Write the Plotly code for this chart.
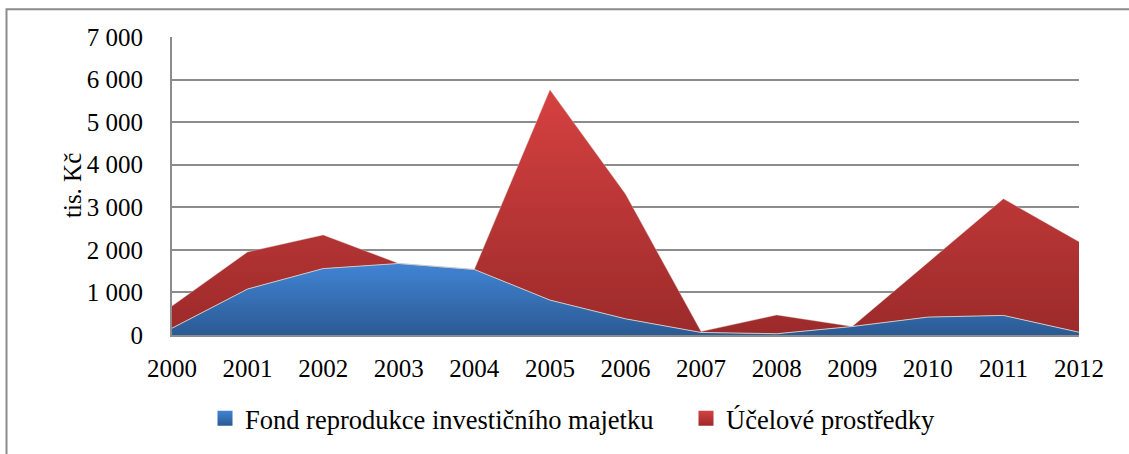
import plotly.graph_objects as go

years = [2000, 2001, 2002, 2003, 2004, 2005, 2006, 2007, 2008, 2009, 2010, 2011, 2012]
fond = [160, 1080, 1560, 1680, 1540, 820, 380, 60, 30, 200, 420, 460, 65]
ucel = [520, 870, 790, 0, 0, 4940, 2930, 20, 440, 0, 1280, 2740, 2125]

series_names = ["Fond reprodukce investičního majetku", "Účelové prostředky"]
y_tickvals = [0, 1000, 2000, 3000, 4000, 5000, 6000, 7000]
y_ticktext = ["0", "1 000", "2 000", "3 000", "4 000", "5 000", "6 000", "7 000"]
x_ticktext = [str(y) for y in years]
y_title = "tis. Kč"

FONT = "Liberation Serif, Times New Roman, serif"
GRID = "#8c8c8c"

blue_dark, blue_light = "#2b5a93", "#4184d4"
red_dark, red_light = "#9c2a2a", "#d64141"

fig = go.Figure()

fig.add_trace(go.Scatter(
    x=years, y=fond, mode="lines", stackgroup="s", showlegend=False,
    line=dict(width=1, color="#c9c9c9"),
    fillgradient=dict(type="vertical", start=0, stop=max(fond),
                      colorscale=[[0, blue_dark], [1, blue_light]]),
    hoverinfo="skip",
))
fig.add_trace(go.Scatter(
    x=years, y=ucel, mode="lines", stackgroup="s", showlegend=False,
    line=dict(width=0.6, color="rgba(215,200,200,0.7)"),
    fillgradient=dict(type="vertical", start=0, stop=max(f + u for f, u in zip(fond, ucel)),
                      colorscale=[[0, red_dark], [1, red_light]]),
    hoverinfo="skip",
))

# legend entries
fig.add_trace(go.Scatter(
    x=[None], y=[None], mode="markers", name=series_names[0], legend="legend",
    marker=dict(symbol="square", size=15, color=blue_light,
                gradient=dict(type="vertical", color=blue_dark)),
))
fig.add_trace(go.Scatter(
    x=[None], y=[None], mode="markers", name=series_names[1], legend="legend2",
    marker=dict(symbol="square", size=15, color=red_light,
                gradient=dict(type="vertical", color=red_dark)),
))

W, H = 1129, 454
L, R, T, B = 172, 50, 37, 117
pw, ph = W - L - R, H - T - B

def px(xp):
    return (xp - L) / pw

def py(yp):
    return (H - B - yp) / ph

LEG_FONT = 26.5

# outer frame: only the left and top edges fall inside the picture
bx0, by0, bx1, by1 = px(6.5), py(470), px(1140), py(9)
frame_path = f"M {bx0},{by0} L {bx0},{by1} L {bx1},{by1}"

fig.update_layout(
    width=W, height=H,
    margin=dict(l=L, r=R, t=T, b=B),
    paper_bgcolor="white", plot_bgcolor="white",
    font=dict(family=FONT, size=25, color="black"),
    showlegend=True,
    legend=dict(x=px(205), y=py(421), xanchor="left", yanchor="middle",
                font=dict(family=FONT, size=LEG_FONT), bgcolor="rgba(0,0,0,0)",
                orientation="h"),
    legend2=dict(x=px(686), y=py(421), xanchor="left", yanchor="middle",
                 font=dict(family=FONT, size=LEG_FONT), bgcolor="rgba(0,0,0,0)",
                 orientation="h"),
    xaxis=dict(range=[2000, 2012], tickvals=years, ticktext=x_ticktext,
               showgrid=False, zeroline=False, showline=True,
               linecolor=GRID, linewidth=2, ticks="", ticklabelstandoff=10,
               fixedrange=True),
    yaxis=dict(range=[0, 7000], tickvals=y_tickvals, ticktext=y_ticktext,
               showgrid=True, gridcolor=GRID, gridwidth=2, zeroline=False,
               showline=True, linecolor=GRID, linewidth=2, ticks="",
               ticklabelstandoff=22, fixedrange=True),
    annotations=[dict(text=y_title, xref="paper", yref="paper", x=px(72), y=py(187),
                      textangle=-90, showarrow=False, xanchor="center", yanchor="middle",
                      font=dict(family=FONT, size=25))],
    shapes=[dict(type="path", xref="paper", yref="paper", path=frame_path,
                 line=dict(color=GRID, width=2), layer="below")],
)

fig.write_html(
    "out.html",
    config={"displayModeBar": False},
    post_script=(
        "document.documentElement.style.overflow='hidden';"
        "document.body.style.margin='0';document.body.style.overflow='hidden';"
    ),
)
